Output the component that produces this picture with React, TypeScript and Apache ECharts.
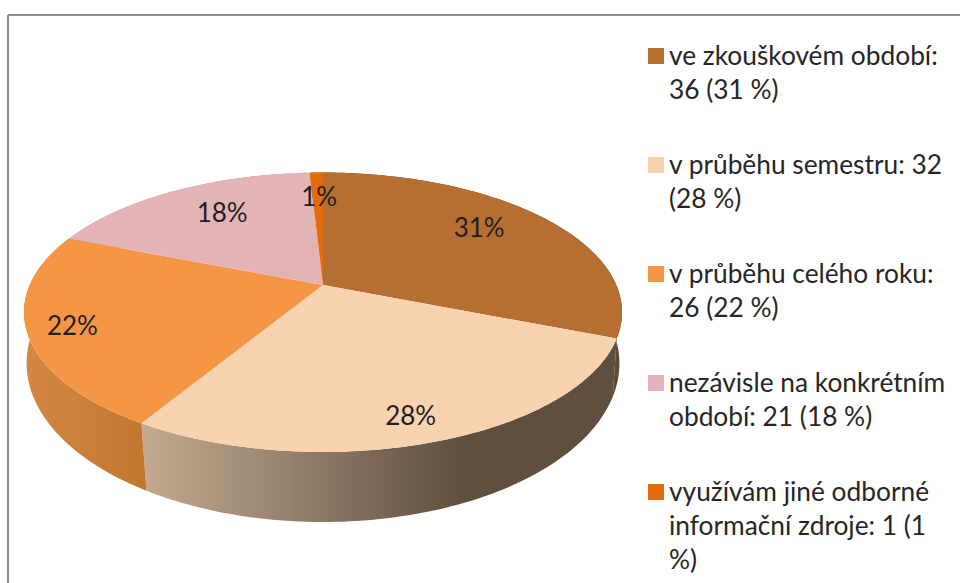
import React, { useEffect, useRef } from "react";
import * as echarts from "echarts";

const categories = ["ve zkouškovém období", "v průběhu semestru", "v průběhu celého roku", "nezávisle na konkrétním období", "využívám jiné odborné informační zdroje"];
const values = [36, 32, 26, 21, 1];
const pieLabels = ["31%", "28%", "22%", "18%", "1%"];
const legendLabels = [
  "ve zkouškovém období:\n36 (31 %)",
  "v průběhu semestru: 32\n(28 %)",
  "v průběhu celého roku:\n26 (22 %)",
  "nezávisle na konkrétním\nobdobí: 21 (18 %)",
  "využívám jiné odborné\ninformační zdroje: 1 (1\n%)",
];
const topColors = ["#B66F31", "#F9D2B0", "#F59647", "#E2B4B5", "#E36C0A"];
const sideStops: string[][] = [
  ["#6f4a28", "#5f4a34"],
  ["#C4AA90", "#5E4F3F"],
  ["#D48843", "#C2772F"],
  ["#C89A9A", "#C89A9A"],
  ["#C05A08", "#C05A08"],
];
const labelRadius = [0.75, 0.85, 0.855, 0.72, 0.76];
const labelShift = [-5, 1.4, -0.6, 3.4, 0.4];

const total = values.reduce((a, b) => a + b, 0);
const starts: number[] = [];
values.reduce((acc, v, i) => {
  starts[i] = acc;
  return acc + v;
}, 0);

const apexX = 323;
const apexY = 285;
const top = { a: 293.3, b: 134.4, p: 0.195, cy: apexY };
const rim = { a: 292, b: 154, p: 0.172, cy: 336 };

function project(face: typeof top, theta: number, r = 1) {
  const u = Math.sin(theta) * r;
  const v = -Math.cos(theta) * r;
  const d = 1 - face.p * v;
  return [apexX + (face.a * u) / d, face.cy + (face.b * v) / d];
}

function arc(face: typeof top, from: number, to: number) {
  const n = Math.max(2, Math.ceil(Math.abs(to - from) / 0.02));
  const pts: number[][] = [];
  for (let i = 0; i <= n; i++) pts.push(project(face, from + ((to - from) * i) / n));
  return pts;
}

function angles(i: number) {
  const from = (starts[i] / total) * Math.PI * 2;
  return [from, from + (values[i] / total) * Math.PI * 2];
}

const legendItems = legendLabels.flatMap((text, i) => {
  const y = 43 + i * 109;
  return [
    { type: "rect", shape: { x: 648, y: y + 5, width: 16, height: 16 }, style: { fill: topColors[i] } },
    {
      type: "text",
      x: 669,
      y: y - 5,
      style: { text, fill: "#262626", font: "26.3px Lato", lineHeight: 34, textVerticalAlign: "top" },
    },
  ];
});

export default function App() {
  const ref = useRef<HTMLDivElement>(null);
  useEffect(() => {
    document.body.style.margin = "0";
    const chart = echarts.init(ref.current!, null, { renderer: "svg" });
    const dataset = values.map((v, i) => ({ name: categories[i], value: [v, i] }));
    chart.setOption({
      animation: false,
      backgroundColor: "#fff",
      graphic: [
        { type: "line", shape: { x1: 8, y1: 15, x2: 960, y2: 15 }, style: { stroke: "#8c8c8c", lineWidth: 2 } },
        { type: "line", shape: { x1: 8, y1: 15, x2: 8, y2: 583 }, style: { stroke: "#8c8c8c", lineWidth: 2 } },
        ...legendItems,
      ],
      series: [
        {
          type: "custom",
          name: "side",
          coordinateSystem: "none",
          silent: true,
          z: 1,
          data: dataset,
          renderItem: (_p: any, api: any) => {
            const i = api.value(1);
            const [a, b] = angles(i);
            const points = [...arc(top, a, b), ...arc(rim, b, a)];
            const fill = new echarts.graphic.LinearGradient(0, 0, 1, 0, [
              { offset: 0, color: sideStops[i][0] },
              { offset: i === 1 ? 0.68 : 1, color: sideStops[i][1] },
              { offset: 1, color: sideStops[i][1] },
            ]);
            return { type: "polygon", shape: { points }, style: { fill } };
          },
        },
        {
          type: "custom",
          name: "top",
          coordinateSystem: "none",
          silent: true,
          z: 2,
          data: dataset,
          renderItem: (_p: any, api: any) => {
            const i = api.value(1);
            const [a, b] = angles(i);
            const points = [[apexX, apexY], ...arc(top, a, b)];
            return { type: "polygon", shape: { points }, style: { fill: topColors[i] } };
          },
        },
        {
          type: "custom",
          name: "labels",
          coordinateSystem: "none",
          silent: true,
          z: 3,
          data: dataset,
          renderItem: (_p: any, api: any) => {
            const i = api.value(1);
            const [a, b] = angles(i);
            const [x, y] = project(top, (a + b) / 2 + (labelShift[i] * Math.PI) / 180, labelRadius[i]);
            return {
              type: "text",
              x,
              y,
              style: { text: pieLabels[i], fill: "#1f1f1f", font: "26px Lato", textAlign: "center", textVerticalAlign: "middle" },
            };
          },
        },
      ],
    });
    return () => chart.dispose();
  }, []);
  return <div ref={ref} style={{ width: 960, height: 583 }} />;
}
